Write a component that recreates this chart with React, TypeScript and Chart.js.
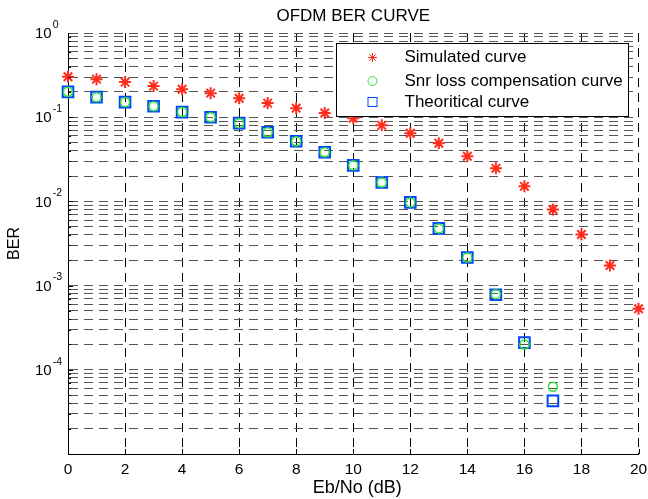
import React, { useEffect, useRef } from 'react';
import { Chart, registerables } from 'chart.js';

Chart.register(...registerables);

const ebNo = [0, 1, 2, 3, 4, 5, 6, 7, 8, 9, 10, 11, 12, 13, 14, 15, 16, 17, 18, 19, 20];
const simulated = [0.302, 0.283, 0.261, 0.234, 0.215, 0.193, 0.168, 0.147, 0.128, 0.112, 0.097, 0.080, 0.0645, 0.049, 0.0344, 0.0247, 0.0151, 0.0080, 0.00404, 0.00173, 0.000532];
const snrLossComp = [0.200, 0.173, 0.151, 0.135, 0.115, 0.100, 0.085, 0.0663, 0.0518, 0.0383, 0.0268, 0.0168, 0.00973, 0.00478, 0.00216, 0.00079, 0.000200, 0.0000628];
const theoretical = [0.200, 0.173, 0.151, 0.135, 0.115, 0.100, 0.085, 0.0663, 0.0518, 0.0383, 0.0268, 0.0168, 0.00973, 0.00478, 0.00216, 0.00078, 0.000210, 0.0000427];

const seriesLabels = ['Simulated curve', 'Snr loss compensation curve', 'Theoritical curve'];
const xTicks = [0, 2, 4, 6, 8, 10, 12, 14, 16, 18, 20];
const yDecades = [-5, -4, -3, -2, -1];
const yMantissas = [1, 2, 3, 4, 5, 6, 7, 8, 9];
const yLabelExponents = [0, -1, -2, -3, -4];

const titleText = 'OFDM BER CURVE';
const xTitle = 'Eb/No (dB)';
const yTitle = 'BER';

const FONT = '"Liberation Sans", Arial, Helvetica, sans-serif';
const RED = 'rgb(255,45,30)';
const GREEN = 'rgb(45,225,45)';
const BLUE = 'rgb(0,70,255)';

const toPts = (arr: number[]) => arr.map((y, i) => ({ x: ebNo[i], y }));

const overlay = {
  id: 'matlabOverlay',
  afterDraw(chart: any) {
    const ctx = chart.ctx as CanvasRenderingContext2D;
    const ca = chart.chartArea;
    const xs = chart.scales.x;
    const ys = chart.scales.y;
    ctx.save();
    ctx.fillStyle = '#000';
    ctx.strokeStyle = '#000';
    ctx.lineWidth = 1;

    // inward ticks
    ctx.beginPath();
    xTicks.forEach((v) => {
      const px = Math.round(xs.getPixelForValue(v)) + 0.5;
      ctx.moveTo(px, ca.bottom);
      ctx.lineTo(px, ca.bottom - 5);
    });
    yDecades.forEach((e) => {
      yMantissas.forEach((m) => {
        const v = m * Math.pow(10, e);
        const py = Math.round(ys.getPixelForValue(v)) + 0.5;
        ctx.moveTo(ca.left, py);
        ctx.lineTo(ca.left + (m === 1 ? 5 : 3), py);
      });
    });
    ctx.stroke();

    // title
    const cx = (ca.left + ca.right) / 2;
    ctx.textAlign = 'center';
    ctx.textBaseline = 'middle';
    ctx.font = `17px ${FONT}`;
    ctx.fillText(titleText, cx, 16);

    // x title
    ctx.font = `18px ${FONT}`;
    ctx.fillText(xTitle, cx + 4, 488);

    // y title
    ctx.save();
    ctx.translate(15, (ca.top + ca.bottom) / 2);
    ctx.rotate(-Math.PI / 2);
    ctx.font = `16px ${FONT}`;
    ctx.fillText(yTitle, 0, 0);
    ctx.restore();

    // y tick labels with superscripts
    yLabelExponents.forEach((e) => {
      const py = ys.getPixelForValue(Math.pow(10, e));
      ctx.textAlign = 'left';
      ctx.textBaseline = 'middle';
      ctx.font = `15px ${FONT}`;
      ctx.fillText('10', 35, py + 1);
      const w = ctx.measureText('10').width;
      ctx.font = `10.5px ${FONT}`;
      ctx.fillText(String(e), 35 + w + 1, py - 8);
    });

    // legend
    const lw = 292;
    const lh = 73;
    const lx = Math.round(ca.right - 11 - lw) + 0.5;
    const ly = Math.round(ca.top + 10) + 0.5;
    ctx.fillStyle = '#fff';
    ctx.fillRect(lx, ly, lw, lh);
    ctx.strokeStyle = '#000';
    ctx.lineWidth = 1;
    ctx.strokeRect(lx, ly, lw, lh);
    const rows = [ly + 14, ly + 37.5, ly + 58.5];
    const mx = lx + 36;
    ctx.fillStyle = '#000';
    ctx.font = `17px ${FONT}`;
    ctx.textAlign = 'left';
    ctx.textBaseline = 'middle';
    seriesLabels.forEach((t, i) => ctx.fillText(t, lx + 68, rows[i]));

    // legend markers
    ctx.lineWidth = 1;
    ctx.strokeStyle = RED;
    ctx.beginPath();
    const r = 4.5;
    for (let k = 0; k < 4; k++) {
      const a = (k * Math.PI) / 4;
      ctx.moveTo(mx - r * Math.cos(a), rows[0] - r * Math.sin(a));
      ctx.lineTo(mx + r * Math.cos(a), rows[0] + r * Math.sin(a));
    }
    ctx.stroke();
    ctx.strokeStyle = GREEN;
    ctx.beginPath();
    ctx.arc(mx, rows[1], 4.5, 0, Math.PI * 2);
    ctx.stroke();
    ctx.strokeStyle = BLUE;
    ctx.strokeRect(mx - 4.5, rows[2] - 4.5, 9, 9);

    ctx.restore();
  },
};

export default function App() {
  const ref = useRef<HTMLCanvasElement | null>(null);

  useEffect(() => {
    if (!ref.current) return;
    const chart = new Chart(ref.current, {
      type: 'scatter',
      data: {
        datasets: [
          {
            label: seriesLabels[0],
            data: toPts(simulated),
            pointStyle: 'star',
            pointRadius: 6,
            borderColor: RED,
            backgroundColor: RED,
            pointBorderWidth: 2,
            clip: false,
            order: 3,
          } as any,
          {
            label: seriesLabels[1],
            data: toPts(snrLossComp),
            pointStyle: 'circle',
            pointRadius: 4.5,
            borderColor: GREEN,
            backgroundColor: 'rgba(0,0,0,0)',
            pointBorderWidth: 1.5,
            clip: false,
            order: 1,
          } as any,
          {
            label: seriesLabels[2],
            data: toPts(theoretical),
            pointStyle: 'rect',
            pointRadius: 7.5,
            borderColor: BLUE,
            backgroundColor: 'rgba(0,0,0,0)',
            pointBorderWidth: 2,
            clip: false,
            order: 2,
          } as any,
        ],
      },
      options: {
        responsive: false,
        animation: false,
        devicePixelRatio: 1,
        layout: { padding: { left: 0, right: 9, top: 33, bottom: 0 } },
        plugins: {
          legend: { display: false },
          title: { display: false },
          tooltip: { enabled: false },
        },
        events: [],
        scales: {
          x: {
            type: 'linear',
            min: 0,
            max: 20,
            afterBuildTicks: (s: any) => {
              s.ticks = xTicks.map((v) => ({ value: v }));
            },
            afterFit: (s: any) => {
              s.height = 45;
              s.paddingLeft = 0;
              s.paddingRight = 0;
            },
            ticks: {
              color: '#000',
              padding: 6,
              maxRotation: 0,
              autoSkip: false,
              font: { family: FONT, size: 15.5 },
              callback: (v: any) => String(v),
            },
            grid: { color: '#000', lineWidth: 1, drawTicks: false },
            border: { display: true, color: '#000', width: 1, dash: [9, 6] },
          },
          y: {
            type: 'logarithmic',
            min: 1e-5,
            max: 1,
            afterBuildTicks: (s: any) => {
              const t: any[] = [];
              yDecades.forEach((e) => yMantissas.forEach((m) => t.push({ value: m * Math.pow(10, e) })));
              t.push({ value: 1 });
              s.ticks = t;
            },
            afterFit: (s: any) => {
              s.width = 68;
              s.paddingTop = 0;
              s.paddingBottom = 0;
            },
            ticks: { display: false },
            grid: { color: '#555', lineWidth: 1, drawTicks: false },
            border: { display: true, color: '#000', width: 1, dash: [9, 6] },
          },
        },
      } as any,
      plugins: [overlay],
    });
    return () => chart.destroy();
  }, []);

  return (
    <div style={{ position: 'absolute', left: 0, top: 0, width: 648, height: 499, background: '#fff' }}>
      <canvas ref={ref} width={648} height={499} style={{ width: 648, height: 499 }} />
    </div>
  );
}
